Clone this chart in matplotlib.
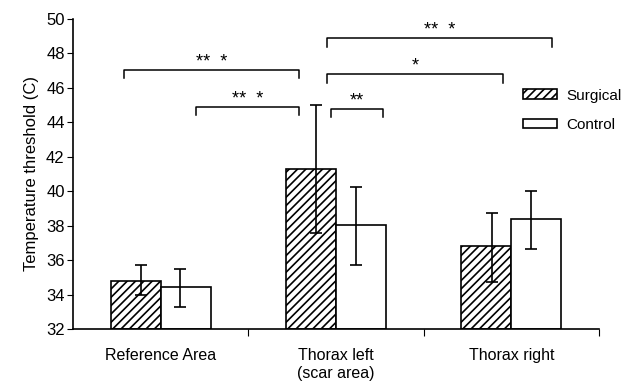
import matplotlib
matplotlib.use("Agg")
import matplotlib.pyplot as plt
import numpy as np

plt.rcParams['font.family'] = ['Liberation Sans', 'DejaVu Sans']
plt.rcParams['hatch.linewidth'] = 1.2

categories = ['Reference Area', 'Thorax left\n(scar area)', 'Thorax right']
surgical = [34.8, 41.3, 36.8]
surgical_lo = [34.0, 37.6, 34.75]
surgical_hi = [35.7, 45.0, 38.75]
control = [34.45, 38.05, 38.4]
control_lo = [33.3, 35.7, 36.65]
control_hi = [35.5, 40.25, 40.0]

# significance brackets: (x start, x end, height, label)
brackets = [
    (-0.21, 0.79, 47.05, '**  *'),
    (0.20, 0.79, 44.9, '**  *'),
    (0.95, 2.23, 48.9, '**  *'),
    (0.95, 1.95, 46.8, '*'),
    (0.97, 1.27, 44.8, '**'),
]

fig = plt.figure(figsize=(6.27, 3.87), dpi=100)
ax = fig.add_axes([0.1164, 0.1499, 0.8389, 0.8010])

x = np.arange(len(categories))
w = 0.285
base = 32

s_err = [np.array(surgical) - np.array(surgical_lo), np.array(surgical_hi) - np.array(surgical)]
c_err = [np.array(control) - np.array(control_lo), np.array(control_hi) - np.array(control)]

ax.bar(x - w / 2, np.array(surgical) - base, w, bottom=base, color='white',
       edgecolor='black', hatch='////', linewidth=1.2, label='Surgical')
ax.bar(x + w / 2, np.array(control) - base, w, bottom=base, color='white',
       edgecolor='black', linewidth=1.2, label='Control')
ax.errorbar(x - w / 2 + 0.03, surgical, yerr=s_err, fmt='none', ecolor='black',
            elinewidth=1.2, capsize=4, capthick=1.2)
ax.errorbar(x + w / 2 - 0.03, control, yerr=c_err, fmt='none', ecolor='black',
            elinewidth=1.2, capsize=4, capthick=1.2)

for x0, x1, h, lab in brackets:
    ax.plot([x0, x0, x1, x1], [h - 0.5, h, h, h - 0.5], color='black', lw=1.1,
            clip_on=False)
    ax.text((x0 + x1) / 2, h - 0.05, lab, ha='center', va='bottom', fontsize=13)

ax.set_xlim(-0.5, 2.5)
ax.set_ylim(32, 50)
ax.set_yticks(np.arange(32, 51, 2))
ax.set_xticks([0.5, 1.5, 2.5])
ax.set_xticklabels([])
ax.set_xticks(x, minor=True)
ax.set_xticklabels(categories, minor=True, fontsize=11.5)
ax.tick_params(axis='x', which='minor', length=0, pad=14)
ax.tick_params(axis='x', which='major', length=5, direction='out')
ax.tick_params(axis='y', labelsize=12, length=4, direction='out', pad=2)
ax.spines['top'].set_visible(False)
ax.spines['right'].set_visible(False)
ax.spines['left'].set_linewidth(1.2)
ax.spines['bottom'].set_linewidth(1.2)
ax.set_ylabel('Temperature threshold (C)', fontsize=12, labelpad=5)

ax.legend(loc='upper left', bbox_to_anchor=(0.83, 0.82), frameon=False,
          fontsize=11, handlelength=2.2, handleheight=0.6, handletextpad=0.6,
          labelspacing=1.0)

fig.savefig('out.png', dpi=100)
